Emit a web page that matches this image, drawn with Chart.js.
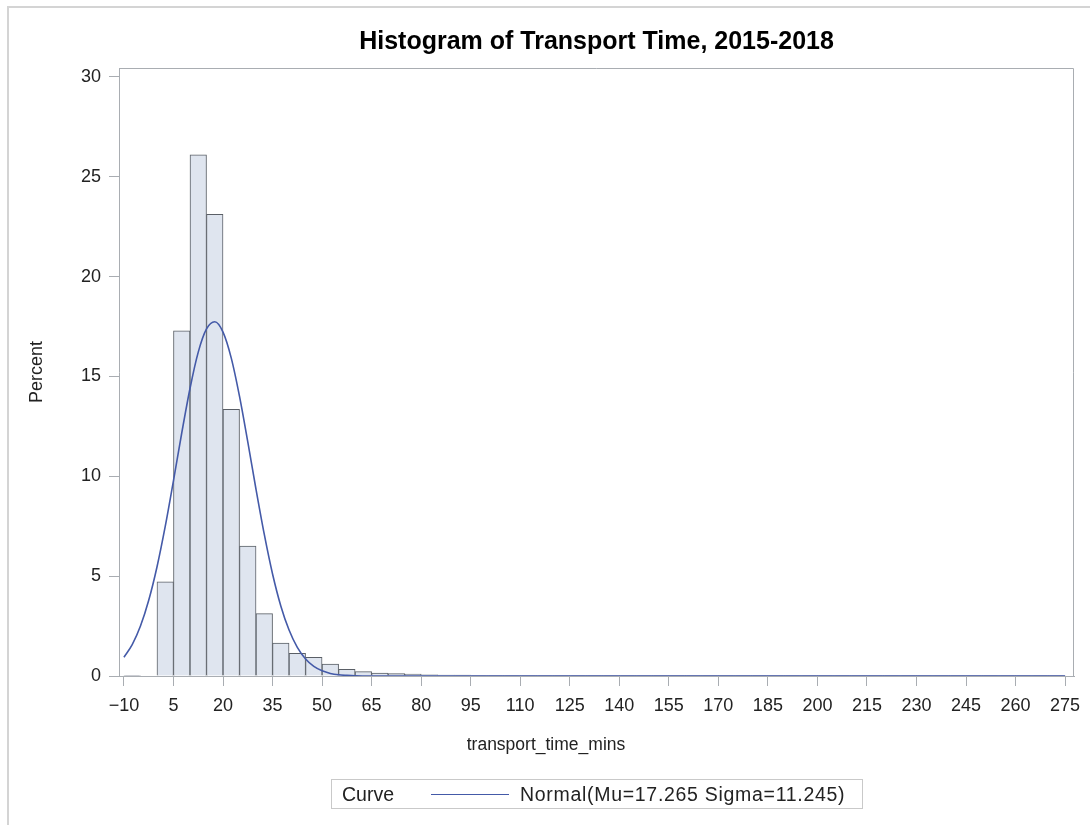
<!DOCTYPE html>
<html>
<head>
<meta charset="utf-8">
<script src="https://cdn.jsdelivr.net/npm/chart.js@4.4.0/dist/chart.umd.min.js"></script>
<style>
  body { margin: 0; background: #fff; font-family: "Liberation Sans", Arial, sans-serif; }
  #wrap { position: relative; width: 1090px; height: 825px; overflow: hidden; }
  #frame { position: absolute; left: 7px; top: 6px; width: 1200px; height: 900px;
           border-left: 2px solid #d4d4d4; border-top: 2px solid #d4d4d4; }
  canvas { position: absolute; left: 0; top: 0; }
  #xtitle { position: absolute; left: 346px; width: 400px; top: 734px; text-align: center;
            font-size: 17.5px; color: #222; }
  #legend { position: absolute; left: 331px; top: 779px; width: 530px; height: 28px;
            border: 1px solid #c9c9c9; font-size: 19.5px; color: #222; }
  #legend .lbl { position: absolute; left: 10px; top: 3px; }
  #legend .swatch { position: absolute; left: 99px; top: 14px; width: 78px; height: 0;
                    border-top: 1.5px solid #445aa8; }
  #legend .txt { position: absolute; left: 188px; top: 3px; letter-spacing: 0.7px; }
</style>
</head>
<body>
<div id="wrap">
  <div id="frame"></div>
  <canvas id="chart" width="1090" height="825"></canvas>
  <div id="xtitle">transport_time_mins</div>
  <div id="legend"><span class="lbl">Curve</span><span class="swatch"></span><span class="txt">Normal(Mu=17.265 Sigma=11.245)</span></div>
</div>
<script>
// histogram bins (midpoints, width 5 minutes)
const binMids = [-7.5, -2.5, 2.5, 7.5, 12.5, 17.5, 22.5, 27.5, 32.5, 37.5, 42.5, 47.5, 52.5, 57.5,
  62.5, 67.5, 72.5, 77.5, 82.5, 87.5, 92.5, 97.5, 102.5, 107.5, 112.5, 117.5, 122.5, 127.5,
  132.5, 137.5, 142.5, 147.5, 152.5, 157.5, 162.5, 167.5, 172.5, 177.5, 182.5, 187.5, 192.5,
  197.5, 202.5, 207.5, 212.5, 217.5, 222.5, 227.5, 232.5, 237.5, 242.5, 247.5, 252.5, 257.5,
  262.5, 267.5, 272.5]
const percents = [0.03, 0, 4.72, 17.29, 26.1, 23.12, 13.35, 6.51, 3.12, 1.65, 1.14, 0.93, 0.6, 0.34,
  0.22, 0.15, 0.12, 0.1, 0.06, 0.05, 0.04, 0.03, 0.03, 0.02, 0.02, 0.02, 0.01, 0.01,
  0.01, 0.01, 0.01, 0.01, 0.01, 0.01, 0.01, 0.01, 0.01, 0.01, 0.01, 0.01, 0.01,
  0.01, 0.01, 0.01, 0.01, 0.01, 0.01, 0.01, 0.01, 0.01, 0.01, 0.01, 0.01, 0.01,
  0.01, 0.01, 0.01]

// fitted normal curve
const curveX = [-10, -7.5, -5, -2.5, 0, 2.5, 5, 7.5, 10, 12.5, 15, 17.5, 20, 22.5, 25, 27.5, 30,
  32.5, 35, 37.5, 40, 42.5, 45, 47.5, 50, 52.5, 55, 57.5, 60, 65, 70, 80, 100, 150, 200, 250, 275]
const curveY = [0.94, 1.57, 2.5, 3.79, 5.46, 7.49, 9.79, 12.17, 14.4, 16.22, 17.38, 17.74, 17.22,
  15.92, 14.0, 11.72, 9.34, 7.09, 5.11, 3.51, 2.3, 1.43, 0.85, 0.48, 0.26, 0.13, 0.06, 0.03, 0.01,
  0, 0, 0, 0, 0, 0, 0, 0]

const xTicks = [-10, 5, 20, 35, 50, 65, 80, 95, 110, 125, 140, 155, 170, 185, 200, 215, 230, 245, 260, 275]
const yTicks = [0, 5, 10, 15, 20, 25, 30]

const axisGrey = '#a9adb2'
const tickFont = { family: '"Liberation Sans", Arial, sans-serif', size: 18 }

// top and right edges of the plot frame
const framePlugin = {
  id: 'frame',
  afterDraw(chart) {
    const { ctx, chartArea: a } = chart
    ctx.save()
    ctx.strokeStyle = axisGrey
    ctx.lineWidth = 1
    ctx.beginPath()
    ctx.moveTo(a.left, a.top + 0.5)
    ctx.lineTo(a.right - 0.5, a.top + 0.5)
    ctx.lineTo(a.right - 0.5, a.bottom)
    ctx.stroke()
    ctx.restore()
  }
}

new Chart(document.getElementById('chart'), {
  type: 'bar',
  data: {
    datasets: [
      {
        type: 'line',
        data: curveX.map((x, i) => ({ x: x, y: curveY[i] })),
        borderColor: '#445aa8',
        borderWidth: 1.6,
        pointRadius: 0,
        cubicInterpolationMode: 'monotone',
        order: 0
      },
      {
        type: 'bar',
        data: binMids.map((x, i) => ({ x: x, y: percents[i] })),
        backgroundColor: '#dfe5ef',
        borderColor: '#5a5f66',
        borderWidth: 1,
        borderSkipped: 'bottom',
        barPercentage: 1,
        categoryPercentage: 1,
        order: 1
      }
    ]
  },
  options: {
    responsive: false,
    animation: false,
    layout: { padding: { right: 16 } },
    plugins: {
      legend: { display: false },
      tooltip: { enabled: false },
      title: {
        display: true,
        fullSize: false,
        text: 'Histogram of Transport Time, 2015-2018',
        color: '#000',
        font: { family: '"Liberation Sans", Arial, sans-serif', size: 25, weight: 'bold' },
        padding: { top: 27, bottom: 11 }
      }
    },
    scales: {
      x: {
        type: 'linear',
        min: -11.5,
        max: 277.7,
        offset: false,
        afterBuildTicks: s => { s.ticks = xTicks.map(v => ({ value: v })) },
        afterFit: s => { s.height = 149 },
        grid: { drawOnChartArea: false, offset: false, tickLength: 10, color: axisGrey },
        border: { color: axisGrey },
        ticks: {
          autoSkip: false, maxRotation: 0, padding: 9, color: '#222', font: tickFont,
          callback: v => v < 0 ? '\u2212' + Math.abs(v) : String(v)
        }
      },
      y: {
        min: 0,
        max: 30.45,
        afterBuildTicks: s => { s.ticks = yTicks.map(v => ({ value: v })) },
        afterFit: s => { s.width = 119 },
        grid: { drawOnChartArea: false, tickLength: 10, color: axisGrey },
        border: { color: axisGrey },
        ticks: { padding: 8, color: '#222', font: tickFont },
        title: { display: true, text: 'Percent', color: '#222', font: tickFont, padding: { top: 26 } }
      }
    }
  },
  plugins: [framePlugin]
})
</script>
</body>
</html>
